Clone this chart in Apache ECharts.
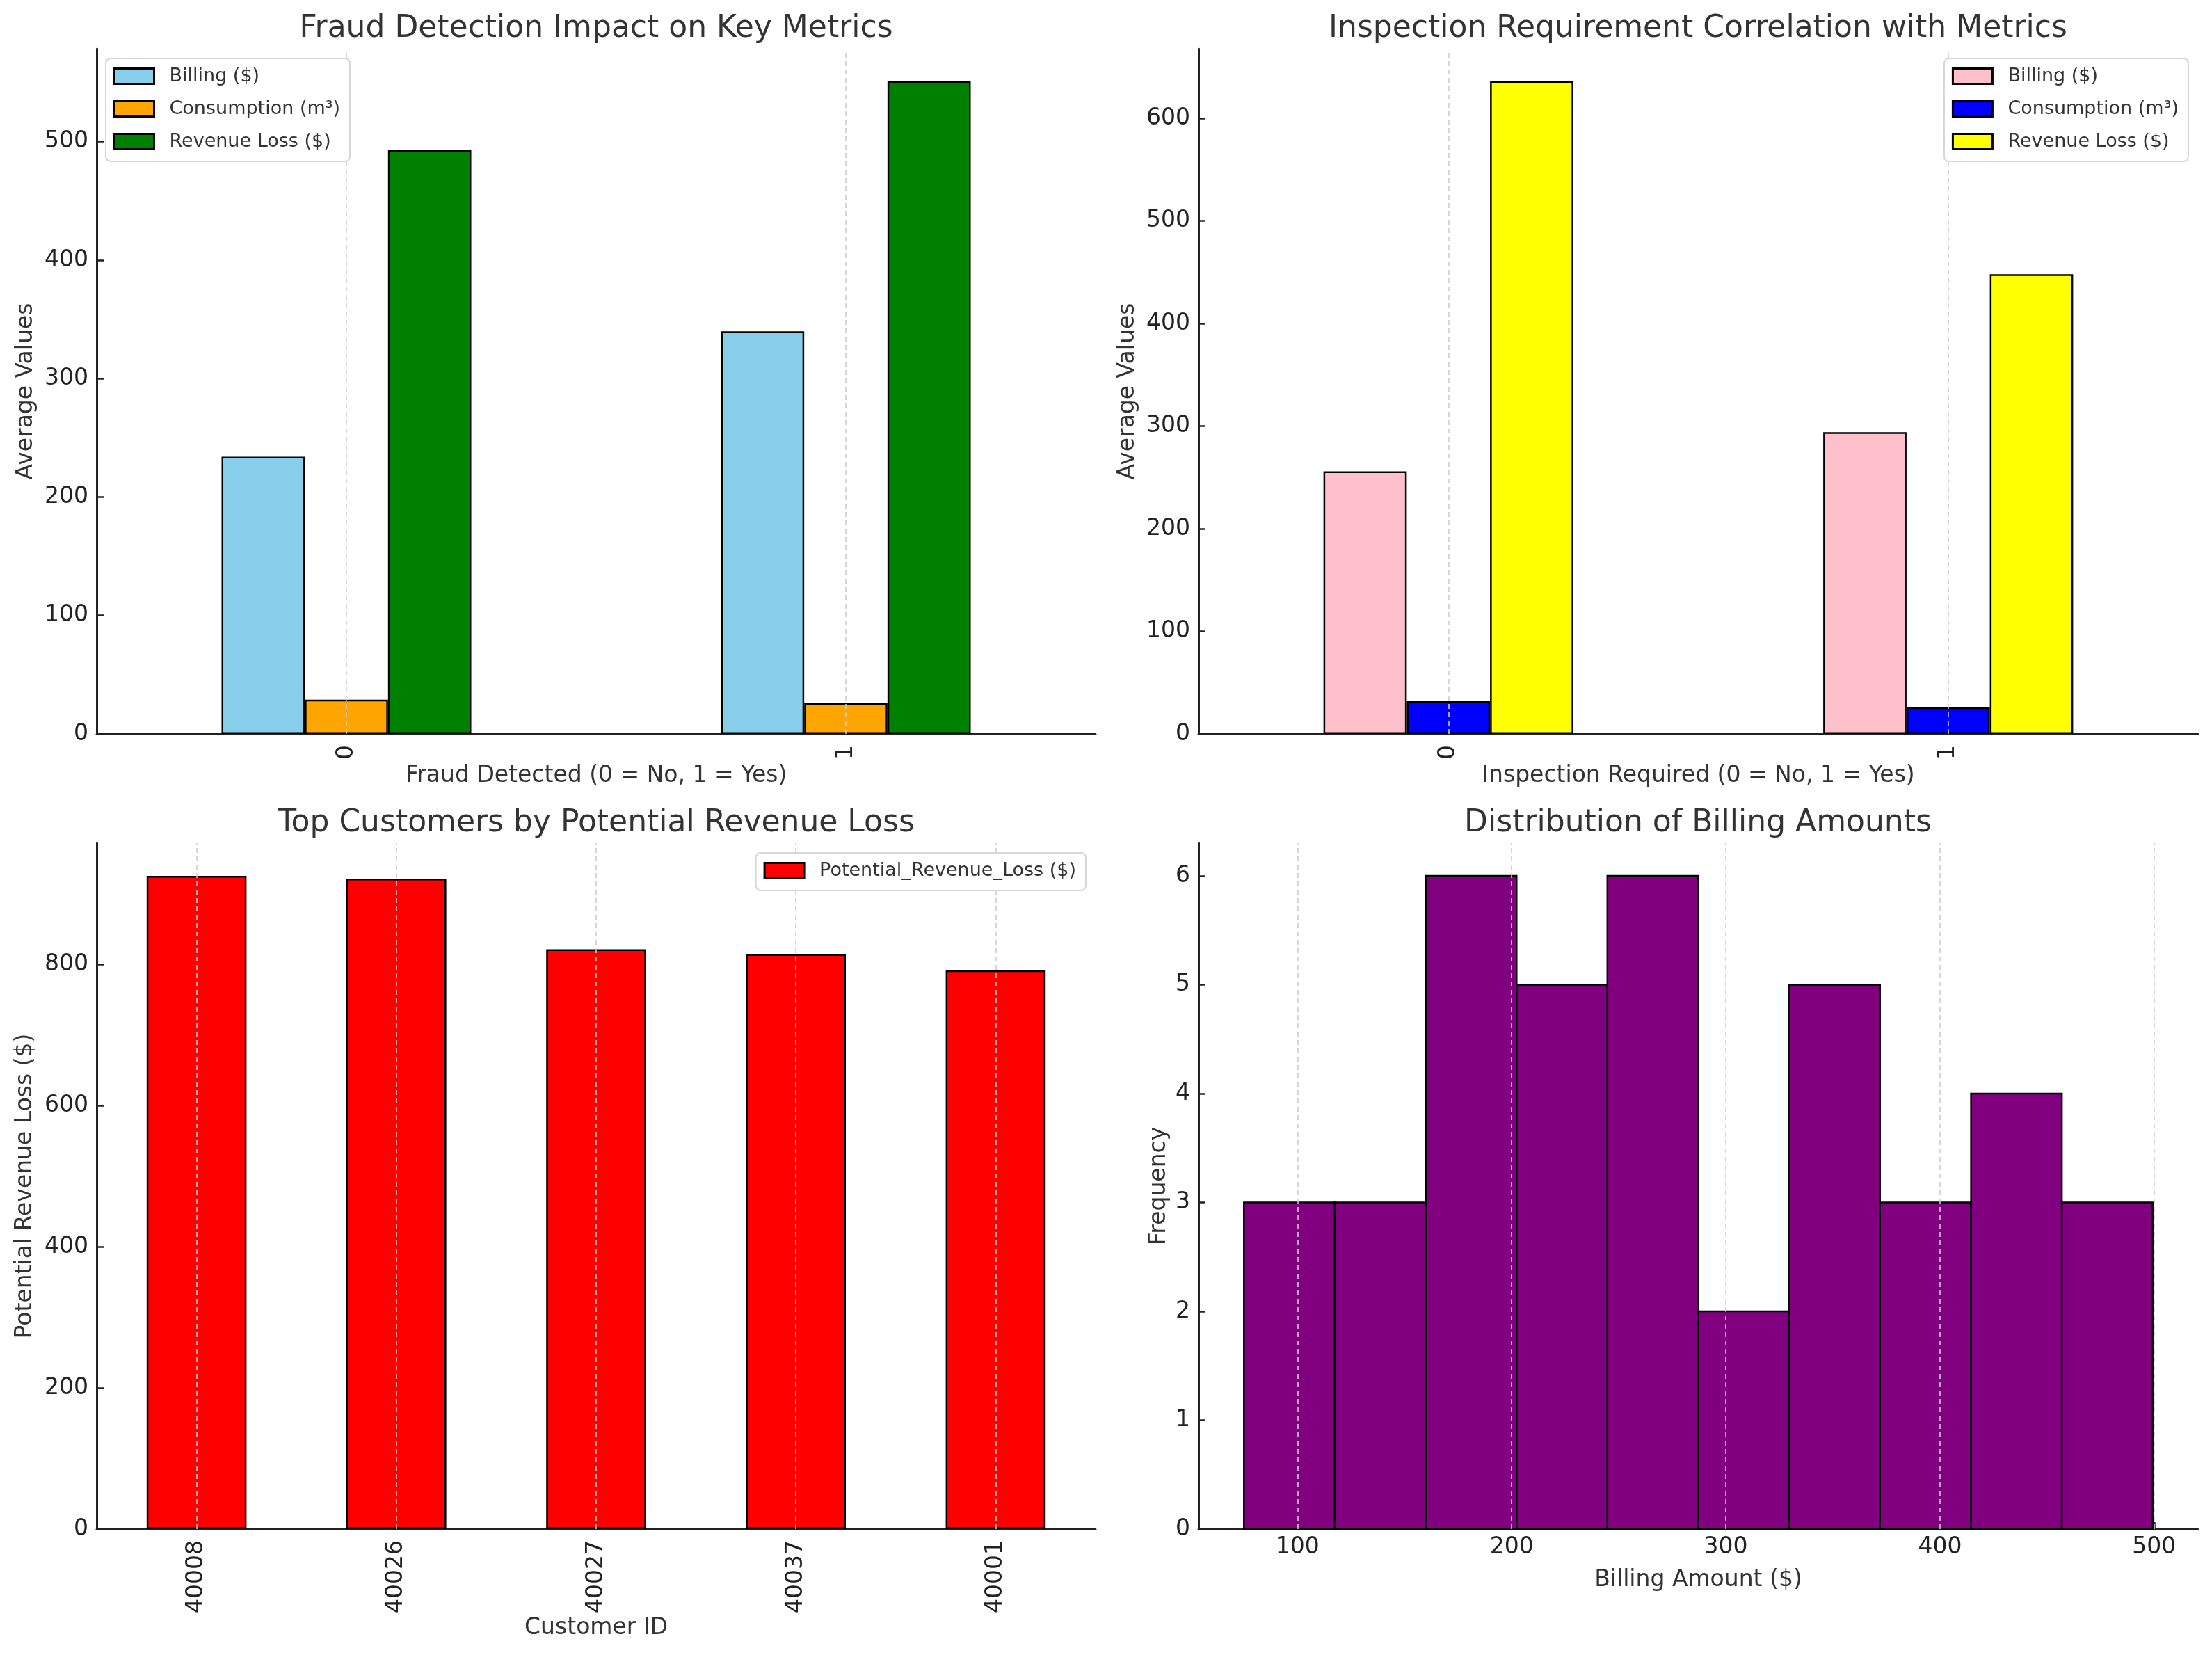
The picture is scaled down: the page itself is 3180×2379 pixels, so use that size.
<!DOCTYPE html>
<html>
<head>
<meta charset="utf-8">
<title>Fraud and billing metrics</title>
<script src="https://cdn.jsdelivr.net/npm/echarts@6/dist/echarts.min.js"></script>
<style>
  html, body { margin: 0; padding: 0; background: #fff; }
  #main { width: 3180px; height: 2379px; }
</style>
</head>
<body>
<div id="main"></div>
<script>
// ---- data ----
var fraudCategories = ['0', '1'];
var fraudBilling = [234, 340];
var fraudConsumption = [29, 26];
var fraudRevenueLoss = [493, 551];

var inspectCategories = ['0', '1'];
var inspectBilling = [256, 294];
var inspectConsumption = [32, 26];
var inspectRevenueLoss = [636, 448];

var customerIds = ['40008', '40026', '40027', '40037', '40001'];
var customerRevenueLoss = [926, 922, 822, 815, 792];

var billingBinEdges = [75, 117.4, 159.9, 202.3, 244.7, 287.2, 329.6, 372.0, 414.5, 456.9, 499.3];
var billingCounts = [3, 3, 6, 5, 6, 2, 5, 3, 4, 3];

var fraudTicks = [0, 100, 200, 300, 400, 500];
var inspectTicks = [0, 100, 200, 300, 400, 500, 600];
var customerTicks = [0, 200, 400, 600, 800];
var freqTicks = [0, 1, 2, 3, 4, 5, 6];
var billingTicks = [100, 200, 300, 400, 500];

var metricNames = ['Billing ($)', 'Consumption (m\u00b3)', 'Revenue Loss ($)'];

// ---- styling ----
var FONT = 'DejaVu Sans';
var INK = '#222';
var LABEL = '#333';

var grids = [
  { left: 139, top: 70, width: 1436, height: 985 },
  { left: 1723, top: 70, width: 1437, height: 985 },
  { left: 139, top: 1212, width: 1436, height: 986 },
  { left: 1723, top: 1212, width: 1437, height: 986 }
];

// dashed x grid drawn on top of the bars (as in the reference),
// carried by an empty line series so it sits on the category centre
function gridLineSeries(xi, values) {
  return {
    type: 'line', name: '_grid' + xi, xAxisIndex: xi, yAxisIndex: xi,
    data: [], z: 5, silent: true,
    markLine: {
      silent: true,
      symbol: 'none',
      animation: false,
      label: { show: false },
      lineStyle: { color: '#cccccc', type: [7, 5], width: 1.6 },
      emphasis: { disabled: true },
      data: values.map(function (v) { return { xAxis: v }; })
    }
  };
}

function catAxis(gi, cats, name, nameGap) {
  return {
    type: 'category', gridIndex: gi, data: cats,
    name: name, nameLocation: 'middle', nameGap: nameGap,
    nameTextStyle: { fontFamily: FONT, fontSize: 33, color: LABEL },
    axisLine: { lineStyle: { color: INK, width: 3 } },
    axisTick: { inside: true, length: 10, alignWithLabel: true, lineStyle: { color: INK, width: 2.5 } },
    axisLabel: { rotate: 90, fontFamily: FONT, fontSize: 33, color: INK, margin: 16 },
    splitLine: { show: false }
  };
}

function valAxis(gi, max, ticks, name, nameGap) {
  return {
    type: 'value', gridIndex: gi, min: 0, max: max,
    name: name, nameLocation: 'middle', nameGap: nameGap,
    nameTextStyle: { fontFamily: FONT, fontSize: 33, color: LABEL },
    axisLine: { show: true, lineStyle: { color: INK, width: 3 } },
    axisTick: { show: true, inside: true, length: 10, customValues: ticks, lineStyle: { color: INK, width: 2.5 } },
    axisLabel: { fontFamily: FONT, fontSize: 33, color: INK, margin: 12, customValues: ticks },
    splitLine: { show: false }
  };
}

function legendBox(pos, names, colors) {
  var lg = {
    orient: 'vertical', top: pos.top, z: 20,
    itemWidth: 57, itemHeight: 22, itemGap: 20,
    padding: [12, 14, 15, 11],
    backgroundColor: '#ffffff',
    borderColor: '#d6d6d6', borderWidth: 2, borderRadius: 7,
    textStyle: { fontFamily: FONT, fontSize: 27, color: LABEL, padding: [0, 0, 0, 17], lineHeight: 22 },
    selectedMode: false,
    data: names.map(function (n, i) {
      return { name: n, icon: 'rect', itemStyle: { color: colors[i], borderColor: '#000', borderWidth: 3 } };
    })
  };
  if (pos.left !== undefined) lg.left = pos.left;
  if (pos.right !== undefined) lg.right = pos.right;
  return lg;
}

function barSeries(name, data, color, xi, yi) {
  return {
    type: 'bar', name: name, data: data,
    xAxisIndex: xi, yAxisIndex: yi,
    barGap: '0%', barCategoryGap: '50%',
    itemStyle: { color: color, borderColor: '#000', borderWidth: 2.5 }
  };
}

var fraudColors = ['#87CEEB', '#FFA500', '#008000'];
var inspectColors = ['#FFC0CB', '#0000FF', '#FFFF00'];

var fraudSeries = [fraudBilling, fraudConsumption, fraudRevenueLoss].map(function (d, i) {
  return barSeries(metricNames[i], d, fraudColors[i], 0, 0);
});

var inspectSeries = [inspectBilling, inspectConsumption, inspectRevenueLoss].map(function (d, i) {
  return barSeries(metricNames[i], d, inspectColors[i], 1, 1);
});

var customerSeries = barSeries('Potential_Revenue_Loss ($)', customerRevenueLoss, '#FF0000', 2, 2);

var histData = billingCounts.map(function (c, i) {
  return [billingBinEdges[i], billingBinEdges[i + 1], c];
});
var histSeries = {
  type: 'custom', name: 'Billing Amount', xAxisIndex: 3, yAxisIndex: 3,
  data: histData,
  encode: { x: [0, 1], y: 2 },
  renderItem: function (params, api) {
    var p0 = api.coord([api.value(0), api.value(2)]);
    var p1 = api.coord([api.value(1), 0]);
    return {
      type: 'rect',
      shape: { x: p0[0], y: p0[1], width: p1[0] - p0[0], height: p1[1] - p0[1] },
      style: { fill: '#800080', stroke: '#000', lineWidth: 2.5 }
    };
  }
};

var binSpan = billingBinEdges[billingBinEdges.length - 1] - billingBinEdges[0];

function titleAt(text, cx, top) {
  return {
    text: text, left: cx, top: top, textAlign: 'center', padding: 0,
    textStyle: { fontFamily: FONT, fontSize: 44, fontWeight: 'normal', color: LABEL }
  };
}

var option = {
  animation: false,
  backgroundColor: '#ffffff',
  title: [
    titleAt('Fraud Detection Impact on Key Metrics', 857, 20),
    titleAt('Inspection Requirement Correlation with Metrics', 2441, 20),
    titleAt('Top Customers by Potential Revenue Loss', 857, 1162),
    titleAt('Distribution of Billing Amounts', 2441, 1162)
  ],
  legend: [
    legendBox({ left: 152, top: 84 }, metricNames, fraudColors),
    legendBox({ right: 34, top: 84 }, metricNames, inspectColors),
    legendBox({ right: 1619, top: 1226 }, ['Potential_Revenue_Loss ($)'], ['#FF0000'])
  ],
  grid: grids,
  xAxis: [
    catAxis(0, fraudCategories, 'Fraud Detected (0 = No, 1 = Yes)', 44),
    catAxis(1, inspectCategories, 'Inspection Required (0 = No, 1 = Yes)', 44),
    catAxis(2, customerIds, 'Customer ID', 126),
    {
      type: 'value', gridIndex: 3,
      min: billingBinEdges[0] - binSpan * 0.05,
      max: billingBinEdges[billingBinEdges.length - 1] + binSpan * 0.05,
      name: 'Billing Amount ($)', nameLocation: 'middle', nameGap: 57,
      nameTextStyle: { fontFamily: FONT, fontSize: 33, color: LABEL },
      axisLine: { show: true, lineStyle: { color: INK, width: 3 } },
      axisTick: { show: true, inside: true, length: 10, customValues: billingTicks, lineStyle: { color: INK, width: 2.5 } },
      axisLabel: { fontFamily: FONT, fontSize: 33, color: INK, margin: 10, customValues: billingTicks },
      splitLine: { show: false }
    }
  ],
  yAxis: [
    valAxis(0, Math.max.apply(null, fraudRevenueLoss) * 1.05, fraudTicks, 'Average Values', 85),
    valAxis(1, Math.max.apply(null, inspectRevenueLoss) * 1.05, inspectTicks, 'Average Values', 85),
    valAxis(2, Math.max.apply(null, customerRevenueLoss) * 1.05, customerTicks, 'Potential Revenue Loss ($)', 86),
    valAxis(3, Math.max.apply(null, billingCounts) * 1.05, freqTicks, 'Frequency', 40)
  ],
  series: fraudSeries.concat(inspectSeries, [customerSeries, histSeries,
    gridLineSeries(0, fraudCategories),
    gridLineSeries(1, inspectCategories),
    gridLineSeries(2, customerIds),
    gridLineSeries(3, billingTicks)])
};

var chart = echarts.init(document.getElementById('main'));
chart.setOption(option);
</script>
</body>
</html>
